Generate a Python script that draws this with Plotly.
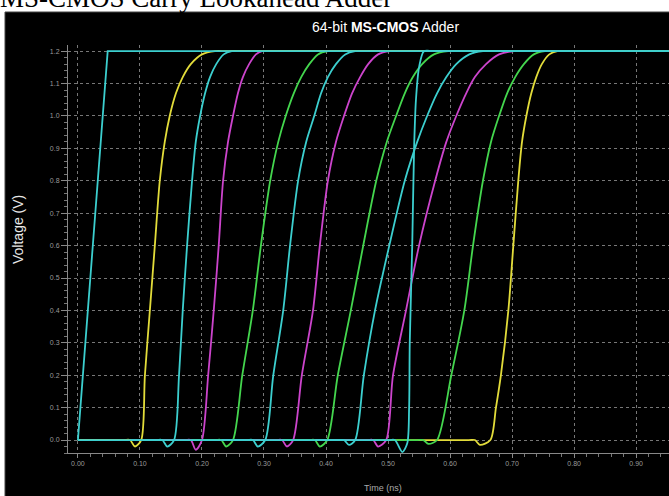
import plotly.graph_objects as go

# ---- data (time in ns, voltage in V) ----
t_ramp1 = [0.0, 0.048, 0.96]
v_ramp1 = [0.0, 1.2, 1.2]

V_STD = [0.0, 0.0, 0.0, -0.02, 0.0, 0.2, 0.4, 0.6, 0.8, 0.92, 1.0, 1.07, 1.12, 1.16, 1.19, 1.2, 1.2, 1.2]

t_yel1 = [0.0, 0.074, 0.084, 0.092, 0.102, 0.108, 0.116, 0.124, 0.132, 0.140, 0.148, 0.158, 0.169, 0.182, 0.200, 0.221, 0.240, 0.96]
v_yel1 = V_STD

t_cya2 = [0.0, 0.126, 0.136, 0.144, 0.155, 0.163, 0.169, 0.176, 0.184, 0.190, 0.197, 0.205, 0.213, 0.223, 0.235, 0.248, 0.266, 0.96]
v_cya2 = V_STD

t_mag3 = [0.0, 0.172, 0.182, 0.190, 0.200, 0.210, 0.219, 0.227, 0.234, 0.242, 0.250, 0.258, 0.266, 0.276, 0.287, 0.297, 0.315, 0.96]
v_mag3 = [0.0, 0.0, 0.0, -0.03, 0.0, 0.2, 0.4, 0.6, 0.8, 0.92, 1.0, 1.07, 1.12, 1.16, 1.19, 1.2, 1.2, 1.2]

t_grn4 = [0.0, 0.221, 0.231, 0.239, 0.250, 0.265, 0.282, 0.295, 0.310, 0.323, 0.335, 0.348, 0.360, 0.373, 0.387, 0.403, 0.422, 0.96]
v_grn4 = V_STD

t_cya5 = [0.0, 0.272, 0.282, 0.290, 0.302, 0.315, 0.331, 0.342, 0.355, 0.368, 0.381, 0.392, 0.403, 0.416, 0.431, 0.447, 0.466, 0.96]
v_cya5 = V_STD

t_mag6 = [0.0, 0.319, 0.329, 0.337, 0.347, 0.361, 0.379, 0.390, 0.403, 0.416, 0.429, 0.442, 0.455, 0.468, 0.484, 0.503, 0.522, 0.96]
v_mag6 = V_STD

t_grn7 = [0.0, 0.372, 0.382, 0.390, 0.402, 0.419, 0.440, 0.460, 0.481, 0.498, 0.513, 0.527, 0.540, 0.555, 0.574, 0.597, 0.616, 0.96]
v_grn7 = V_STD

t_cya8 = [0.0, 0.419, 0.429, 0.437, 0.447, 0.461, 0.479, 0.502, 0.527, 0.547, 0.563, 0.579, 0.594, 0.610, 0.631, 0.653, 0.672, 0.96]
v_cya8 = [0.0, 0.0, 0.0, -0.015, 0.0, 0.2, 0.4, 0.6, 0.8, 0.92, 1.0, 1.07, 1.12, 1.16, 1.19, 1.2, 1.2, 1.2]

t_cya9 = [0.0, 0.501, 0.511, 0.523, 0.531, 0.534, 0.535, 0.539, 0.542, 0.545, 0.550, 0.558, 0.575, 0.96]
v_cya9 = [0.0, 0.0, 0.0, -0.037, -0.01, 0.1, 0.3, 0.6, 0.9, 1.05, 1.15, 1.2, 1.2, 1.2]

t_mag10 = [0.0, 0.466, 0.476, 0.484, 0.497, 0.508, 0.529, 0.550, 0.576, 0.594, 0.610, 0.626, 0.640, 0.658, 0.679, 0.703, 0.722, 0.96]
v_mag10 = V_STD

t_grn11 = [0.0, 0.547, 0.557, 0.565, 0.579, 0.602, 0.623, 0.637, 0.653, 0.666, 0.679, 0.692, 0.705, 0.719, 0.735, 0.753, 0.772, 0.96]
v_grn11 = [0.0, 0.0, 0.0, -0.012, 0.0, 0.2, 0.4, 0.6, 0.8, 0.92, 1.0, 1.07, 1.12, 1.16, 1.19, 1.2, 1.2, 1.2]

t_yel12 = [0.0, 0.630, 0.640, 0.648, 0.665, 0.674, 0.682, 0.694, 0.702, 0.710, 0.716, 0.723, 0.731, 0.739, 0.748, 0.760, 0.773, 0.792, 0.96]
v_yel12 = [0.0, 0.0, 0.0, -0.015, 0.0, 0.1, 0.2, 0.4, 0.6, 0.8, 0.92, 1.0, 1.07, 1.12, 1.16, 1.19, 1.2, 1.2, 1.2]

x_tick_vals = [0.0, 0.1, 0.2, 0.3, 0.4, 0.5, 0.6, 0.7, 0.8, 0.9]
x_tick_text = ["0.00", "0.10", "0.20", "0.30", "0.40", "0.50", "0.60", "0.70", "0.80", "0.90"]
y_tick_vals = [0.0, 0.1, 0.2, 0.3, 0.4, 0.5, 0.6, 0.7, 0.8, 0.9, 1.0, 1.1, 1.2]

CYAN = "#3ccfcf"
YEL = "#e2dc3a"
GRN = "#44d64e"
MAG = "#cc44cc"

series = [
    (t_yel12, v_yel12, YEL, "spline"),
    (t_grn11, v_grn11, GRN, "spline"),
    (t_mag10, v_mag10, MAG, "spline"),
    (t_cya8, v_cya8, CYAN, "spline"),
    (t_grn7, v_grn7, GRN, "spline"),
    (t_mag6, v_mag6, MAG, "spline"),
    (t_cya5, v_cya5, CYAN, "spline"),
    (t_grn4, v_grn4, GRN, "spline"),
    (t_mag3, v_mag3, MAG, "spline"),
    (t_cya2, v_cya2, CYAN, "spline"),
    (t_yel1, v_yel1, YEL, "spline"),
    (t_cya9, v_cya9, CYAN, "spline"),
    (t_ramp1, v_ramp1, CYAN, "linear"),
]

fig = go.Figure()
for tx, vy, col, shp in series:
    line = dict(color=col, width=1.8, shape=shp)
    if shp == "spline":
        line["smoothing"] = 0.8
    fig.add_trace(go.Scatter(x=tx, y=vy, mode="lines", line=line,
                             showlegend=False, hoverinfo="skip"))

# plot area: x 68..669 px, y 45..453 px
PW, PH = 601.0, 408.0
def px(x):
    return (x - 68) / PW
def py(y):
    return (453 - y) / PH

fig.add_shape(type="rect", xref="paper", yref="paper",
              x0=px(5), x1=1.02, y0=py(500), y1=py(12),
              fillcolor="black", line=dict(color="#444", width=1), layer="below")

fig.update_layout(
    width=669, height=496,
    margin=dict(l=68, r=0, t=45, b=43),
    paper_bgcolor="white",
    plot_bgcolor="black",
    showlegend=False,
    font=dict(family="Liberation Sans, Arial, sans-serif"),
    xaxis=dict(
        range=[-0.016, 0.953],
        tickvals=x_tick_vals, ticktext=x_tick_text,
        tickfont=dict(size=7, color="#9a9a9a"),
        showgrid=True, gridcolor="#777", griddash="dot", gridwidth=1,
        zeroline=False,
        showline=True, linecolor="#888", linewidth=1,
        ticks="outside", ticklen=4, tickcolor="#888",
        minor=dict(dtick=0.02, ticks="outside", ticklen=3, tickcolor="#777", showgrid=False),
    ),
    yaxis=dict(
        range=[-0.040, 1.219],
        tickvals=y_tick_vals, tickformat=".1f",
        tickfont=dict(size=7, color="#9a9a9a"),
        showgrid=True, gridcolor="#777", griddash="dot", gridwidth=1,
        zeroline=False,
        showline=True, linecolor="#888", linewidth=1,
        ticks="outside", ticklen=6, tickcolor="#888",
        minor=dict(dtick=0.02, ticks="outside", ticklen=3, tickcolor="#777", showgrid=False),
    ),
    annotations=[
        dict(text="64-bit <b>MS-CMOS</b> Adder", xref="paper", yref="paper",
             x=px(385), y=py(27), xanchor="center", yanchor="middle", showarrow=False,
             font=dict(size=14, color="white", family="Liberation Sans, Arial, sans-serif")),
        dict(text="Voltage (V)", xref="paper", yref="paper", textangle=-90,
             x=px(18), y=py(230), xanchor="center", yanchor="middle", showarrow=False,
             font=dict(size=14, color="#e8e8e8", family="Liberation Sans, Arial, sans-serif")),
        dict(text="Time (ns)", xref="paper", yref="paper",
             x=px(383), y=py(488), xanchor="center", yanchor="middle", showarrow=False,
             font=dict(size=9, color="#aaaaaa", family="Liberation Sans, Arial, sans-serif")),
        dict(text="MS-CMOS Carry Lookahead Adder", xref="paper", yref="paper",
             x=px(-2), y=py(15), xanchor="left", yanchor="bottom", showarrow=False,
             font=dict(size=27, color="black", family="Liberation Serif, Times New Roman, serif")),
    ],
)

fig.write_html("out.html")
